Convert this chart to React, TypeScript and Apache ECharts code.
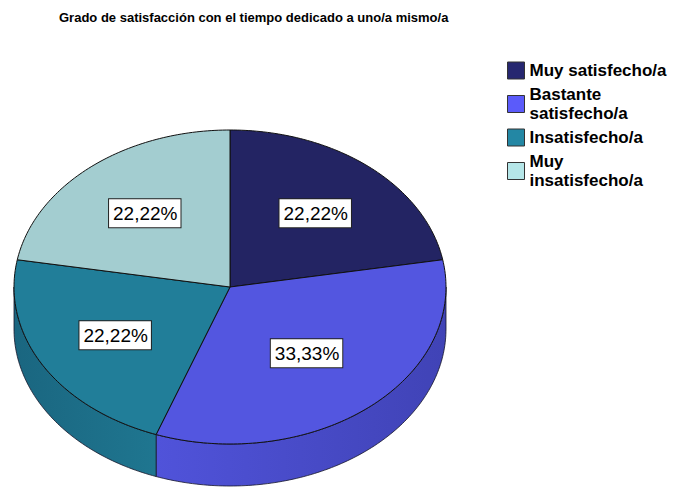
import React, { useEffect, useRef } from "react";
import * as echarts from "echarts";

const titleText = "Grado de satisfacción con el tiempo dedicado a uno/a mismo/a";
const categories = ["Muy satisfecho/a", "Bastante satisfecho/a", "Insatisfecho/a", "Muy insatisfecho/a"];
const legendLabels = ["Muy satisfecho/a", "Bastante\nsatisfecho/a", "Insatisfecho/a", "Muy\ninsatisfecho/a"];
const values = [22.22, 33.33, 22.22, 22.22];
const topColors = ["#232463", "#5356E0", "#217E99", "#A3CDD0"];
const sideColorsLeft = ["#1d1e55", "#5053DA", "#1A6680", "#8fb5b8"];
const sideColorsRight = ["#1a1b4d", "#4043B6", "#1F7690", "#8fb5b8"];
const legendColors = ["#262770", "#5B5BFA", "#2387A4", "#B5E6E8"];

const FONT = "'Liberation Sans', Arial, sans-serif";

export default function App() {
  const ref = useRef<HTMLDivElement>(null);
  useEffect(() => {
    if (!ref.current) return;
    const chart = echarts.init(ref.current, null, { renderer: "svg" });
    const total = values.reduce((s, v) => s + v, 0);
    const starts: number[] = [];
    let acc = 0;
    values.forEach((v) => {
      starts.push((acc / total) * 360);
      acc += v;
    });

    const cx = 230, cy = 287, rx = 216, ry = 157, depth = 42;
    const pt = (deg: number, dy = 0): number[] => {
      const r = (deg * Math.PI) / 180;
      return [cx + rx * Math.sin(r), cy - ry * Math.cos(r) + dy];
    };
    const arc = (a: number, b: number, dy = 0): number[][] => {
      const out: number[][] = [];
      const n = Math.max(2, Math.ceil(Math.abs(b - a)));
      for (let i = 0; i <= n; i++) out.push(pt(a + ((b - a) * i) / n, dy));
      return out;
    };

    const makeRender = (si: number) => (params: any, api: any) => {
      const v = api.value(0);
      const a = starts[si];
      const b = a + (v / total) * 360;
      const children: any[] = [];
      const s = Math.max(a, 90), e = Math.min(b, 270);
      if (s < e) {
        const side = arc(s, e).concat(arc(e, s, depth));
        children.push({
          type: "polygon",
          shape: { points: side },
          style: {
            fill: new echarts.graphic.LinearGradient(0, 0, 1, 0, [
              { offset: 0, color: sideColorsLeft[si] },
              { offset: 1, color: sideColorsRight[si] },
            ]),
            stroke: "#15152a",
            lineWidth: 0.8,
          },
        });
      }
      const top = [[cx, cy]].concat(arc(a, b));
      children.push({
        type: "polygon",
        shape: { points: top },
        style: { fill: topColors[si], stroke: "#111", lineWidth: 1, lineJoin: "round" },
      });
      const half = (((b - a) / 2) * Math.PI) / 180;
      const frac = (2 * Math.sin(half)) / (3 * half);
      const mid = ((a + b) / 2) * Math.PI / 180;
      const lx = cx + rx * frac * Math.sin(mid);
      const ly = cy - ry * frac * Math.cos(mid);
      children.push({
        type: "text",
        x: lx,
        y: ly,
        style: {
          text: v.toFixed(2).replace(".", ",") + "%",
          fontFamily: FONT,
          fontSize: 19,
          fill: "#000",
          align: "center",
          verticalAlign: "middle",
          backgroundColor: "#fff",
          borderColor: "#222",
          borderWidth: 1,
          padding: [5, 3, 4, 4],
        },
      });
      return { type: "group", children };
    };

    chart.setOption({
      animation: false,
      title: {
        text: titleText,
        left: 54,
        top: 6,
        textStyle: { fontFamily: FONT, fontSize: 13, fontWeight: "bold", color: "#000" },
      },
      legend: {
        orient: "vertical",
        left: 507,
        top: 61,
        padding: 0,
        itemWidth: 17,
        itemHeight: 17,
        itemGap: 5,
        icon: "rect",
        selectedMode: false,
        data: categories.map((c, i) => ({
          name: c,
          itemStyle: { color: legendColors[i], borderColor: "#333", borderWidth: 1 },
        })),
        formatter: (name: string) => legendLabels[categories.indexOf(name)],
        textStyle: { fontFamily: FONT, fontSize: 17, fontWeight: "bold", lineHeight: 19, color: "#000" },
      },
      series: categories.map((c, i) => ({
        type: "custom",
        name: c,
        coordinateSystem: "none",
        data: [[values[i]]],
        itemStyle: { color: legendColors[i] },
        renderItem: makeRender(i),
      })),
    });
    return () => chart.dispose();
  }, []);
  return (
    <div
      ref={ref}
      style={{ position: "fixed", left: 0, top: 0, width: 685, height: 488, background: "#fff" }}
    />
  );
}
